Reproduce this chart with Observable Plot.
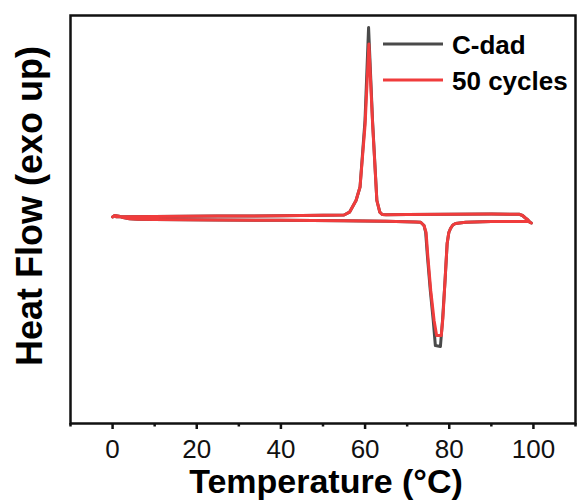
<!DOCTYPE html>
<html><head><meta charset="utf-8">
<script src="https://cdn.jsdelivr.net/npm/d3@7"></script>
<script src="https://cdn.jsdelivr.net/npm/@observablehq/plot@0.6"></script>
<style>
body{margin:0;background:#fff}
#chart svg{font-family: Arial, "Liberation Sans", sans-serif;}
</style>
</head><body><div id="chart"></div>
<script>
// ---- data ----
const seriesNames = ["C-dad", "50 cycles"];
const seriesColors = ["#4a4a4a", "#f03c3c"];

// C-dad: heating (0 -> 100 °C) followed by cooling (100 -> 0 °C)
const cdadT = [0.0, 0.5, 1.5, 2.5, 4, 6, 10, 25, 40, 55, 65, 72, 73.2, 74.0, 74.4, 74.8, 75.5, 76.2, 76.7, 77.9, 78.4, 79.0, 79.5, 79.9, 80.3, 80.85, 81.5, 83.9, 90, 95, 98.8, 99.5,
  99.2, 98.7, 98.1, 97.4, 96.7, 90, 80, 70, 65, 64.07, 63.5, 62.8, 61.77, 60.83, 59.98, 58.8, 57.85, 56.3, 55, 40, 25, 10, 3, 0.8];
const cdadHF = [0.01, 0.04, 0.024, 0.0, -0.024, -0.036, -0.042, -0.05, -0.056, -0.066, -0.076, -0.088, -0.094, -0.16, -0.30, -0.76, -1.46, -2.06, -2.56, -2.58, -2.06, -1.26, -0.52, -0.30, -0.22, -0.15, -0.12, -0.094, -0.08, -0.078, -0.078, -0.11,
  -0.095, -0.05, -0.01, 0.04, 0.064, 0.072, 0.066, 0.058, 0.054, 0.06, 0.106, 0.34, 1.94, 3.80, 1.94, 0.61, 0.34, 0.106, 0.05, 0.034, 0.028, 0.022, 0.016, 0.014];

// 50 cycles
const cyc50T = [0.0, 0.5, 1.5, 2.5, 4, 6, 10, 25, 40, 55, 65, 72, 73.2, 74.0, 74.5, 74.9, 75.6, 76.4, 77.0, 78.1, 78.5, 79.0, 79.5, 79.9, 80.3, 80.85, 81.5, 83.9, 90, 95, 98.8, 99.5,
  99.2, 98.7, 98.1, 97.4, 96.7, 90, 80, 70, 65, 64.07, 63.5, 62.8, 61.8, 60.9, 60.0, 58.8, 57.85, 56.3, 55, 40, 25, 10, 3, 0.8];
const cyc50HF = [0.01, 0.04, 0.024, 0.0, -0.024, -0.036, -0.042, -0.05, -0.056, -0.066, -0.076, -0.088, -0.094, -0.16, -0.30, -0.76, -1.46, -2.06, -2.36, -2.36, -2.0, -1.26, -0.52, -0.30, -0.22, -0.15, -0.12, -0.094, -0.08, -0.078, -0.078, -0.11,
  -0.095, -0.05, -0.01, 0.04, 0.064, 0.072, 0.066, 0.058, 0.054, 0.06, 0.106, 0.34, 1.85, 3.47, 1.85, 0.61, 0.34, 0.106, 0.05, 0.034, 0.028, 0.022, 0.016, 0.014];

const majorTicks = [0, 20, 40, 60, 80, 100];
const minorTicks = [-10, 10, 30, 50, 70, 90, 110];
const xTitle = "Temperature (°C)";
const yTitle = "Heat Flow (exo up)";

// ---- table ----
const rows = [
  ...cdadT.map((t, i) => ({series: seriesNames[0], T: t, HF: cdadHF[i]})),
  ...cyc50T.map((t, i) => ({series: seriesNames[1], T: t, HF: cyc50HF[i]}))
];

const font = "Arial, 'Liberation Sans', sans-serif";
const plot = Plot.plot({
  width: 577, height: 503,
  marginLeft: 70, marginRight: 2, marginTop: 15, marginBottom: 80,
  x: {domain: [-10, 110]},
  y: {domain: [-4.12, 4.04], axis: null},
  color: {domain: seriesNames, range: seriesColors},
  style: {fontFamily: font, background: "white", color: "black"},
  marks: [
    Plot.line(rows, {x: "T", y: "HF", z: "series", stroke: "series", strokeWidth: 3, curve: "linear", strokeLinejoin: "round"}),
    Plot.frame({stroke: "#111", strokeWidth: 2.5}),
    Plot.axisX({ticks: majorTicks, tickSize: 6, tickPadding: 10, fontSize: 26, label: null, strokeWidth: 2.5, stroke: "#111", fill: "#111"}),
    Plot.axisX({ticks: minorTicks, tickSize: 3.5, tickFormat: () => "", label: null, strokeWidth: 2.5, stroke: "#111"}),
    Plot.text([xTitle], {frameAnchor: "bottom", lineAnchor: "top", textAnchor: "middle", dx: 3, dy: 45, fontSize: 34, fontWeight: "bold", fill: "black"}),
    Plot.text([yTitle], {frameAnchor: "left", textAnchor: "middle", rotate: -90, dx: -40, dy: -13.5, fontSize: 36, fontWeight: "bold", fill: "black"})
  ]
});
document.getElementById("chart").appendChild(plot);

// ---- legend (inside the frame, top right) ----
const svg = d3.select(plot);
const lg = svg.append("g").attr("font-family", font).attr("font-weight", "bold")
  .attr("font-size", 26).attr("text-anchor", "start");
seriesNames.forEach((name, i) => {
  const y = 44 + i * 36;
  lg.append("line").attr("x1", 383).attr("x2", 443).attr("y1", y).attr("y2", y)
    .attr("stroke", seriesColors[i]).attr("stroke-width", 3);
  lg.append("text").attr("x", 452).attr("y", y + 10).attr("fill", "black").text(name);
});
</script>
</body></html>
